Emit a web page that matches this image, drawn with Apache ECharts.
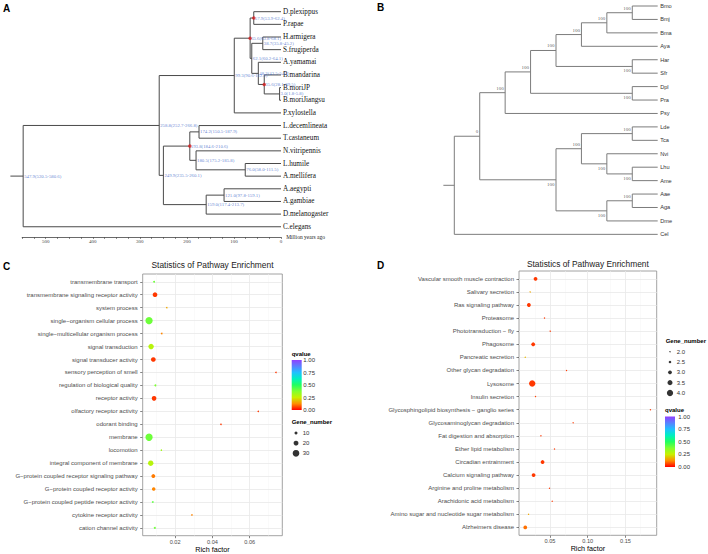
<!DOCTYPE html>
<html><head><meta charset="utf-8">
<script src="https://cdn.jsdelivr.net/npm/echarts@6/dist/echarts.min.js"></script>
<style>html,body{margin:0;padding:0;background:#fff}#c{width:708px;height:554px}</style>
</head><body><div id="c"></div>
<script>
// ================= DATA =================
// ---- Panel A : time tree ----
const leavesA = ['D.plexippus','P.rapae','H.armigera','S.frugiperda','A.yamamai','B.mandarina','B.moriJP','B.moriJiangsu','P.xylostella','L.decemlineata','T.castaneum','N.vitripennis','L.humile','A.mellifera','A.aegypti','A.gambiae','D.melanogaster','C.elegans'];
const nodeIdsA = ['n1','n2','n3','n4','n5','n6','n7','n8','n9','n10','n11','n12','n13','n14','n15','n16','n17'];
const nodeAgesA = [57.9, 38.7, 3.0, 35.6, 48.2, 62.1, 65.6, 99.3, 174.2, 76.0, 180.5, 193.8, 121.0, 159.0, 249.9, 258.8, 547.9];
const nodeKidsA = [['D.plexippus','P.rapae'],['H.armigera','S.frugiperda'],['B.moriJP','B.moriJiangsu'],['B.mandarina','n3'],['A.yamamai','n4'],['n2','n5'],['n1','n6'],['n7','P.xylostella'],['L.decemlineata','T.castaneum'],['L.humile','A.mellifera'],['N.vitripennis','n10'],['n9','n11'],['A.aegypti','A.gambiae'],['n13','D.melanogaster'],['n12','n14'],['n8','n15'],['n16','C.elegans']];
const nodeLabelsA = ['57.9(53.9-62.4)','38.7(35.8-45.2)','3.0(1.8-5.8)','35.6(28.1-39.5)','48.2(43.5-54.5)','62.1(60.2-64.1)','65.6(63.8-68.1)','99.3(90.6-112.2)','174.2(150.5-187.9)','76.0(58.0-111.5)','180.5(175.2-185.8)','193.8(184.6-210.6)','121.0(97.8-159.1)','159.0(117.4-213.7)','249.9(235.5-260.1)','258.8(252.7-266.8)','547.9(520.5-580.6)'];
const calibratedA = ['n1','n4','n7','n12'];
const rootStubAgeA = 575;
const axisMaxA = 550;
const axisStepA = 25;

// ---- Panel B : cladogram ----
const leavesB = ['Bmo','Bmj','Bma','Aya','Har','Sfr','Dpl','Pra','Psy','Lde','Tca','Nvi','Lhu','Ame','Aae','Aga','Dme','Cel'];
const nodeIdsB = ['b1','b2','b3','b4','b5','b6','b7','b8','b9','b10','b11','b12','b13','b14','b15','b16','b17'];
const nodeColsB = [7,6,5,7,4,7,3,2,7,7,6,5,7,6,4,1,0];
const nodeKidsB = [['Bmo','Bmj'],['b1','Bma'],['b2','Aya'],['Har','Sfr'],['b3','b4'],['Dpl','Pra'],['b5','b6'],['b7','Psy'],['Lde','Tca'],['Lhu','Ame'],['Nvi','b10'],['b9','b11'],['Aae','Aga'],['b13','Dme'],['b12','b14'],['b8','b15'],['b16','Cel']];
const nodeSupportB = ['100','100','100','100','100','100','100','100','100','100','100','100','100','100','100','0',''];
const tipColB = 8;
const rootStubColB = -0.43;

// ---- Panel C : GO enrichment ----
const catsC = ['transmembrane transport','transmembrane signaling receptor activity','system process','single\u2212organism cellular process','single\u2212multicellular organism process','signal transduction','signal transducer activity','sensory perception of smell','regulation of biological quality','receptor activity','olfactory receptor activity','odorant binding','membrane','locomotion','integral component of membrane','G\u2212protein coupled receptor signaling pathway','G\u2212protein coupled receptor activity','G\u2212protein coupled peptide receptor activity','cytokine receptor activity','cation channel activity'];
const richC = [0.0087,0.0092,0.0155,0.0060,0.0128,0.0071,0.0083,0.0741,0.0094,0.0087,0.0646,0.0446,0.0060,0.0126,0.0069,0.0083,0.0085,0.0080,0.0290,0.0091];
const qvalC = [0.40,0.05,0.16,0.40,0.12,0.28,0.05,0.05,0.38,0.05,0.05,0.05,0.40,0.32,0.28,0.11,0.12,0.42,0.12,0.40];
const geneC = [4,19,2,33,3,23,19,2,4,19,2,2,33,2,23,15,13,3,2,4];
const majorTicksC = [0.02,0.04,0.06];
const minorTicksC = [0.01,0.03,0.05,0.07];
const sizeLegendC = [10,20,30];

// ---- Panel D : KEGG enrichment ----
const catsD = ['Vascular smooth muscle contraction','Salivary secretion','Ras signaling pathway','Proteasome','Phototransduction \u2212 fly','Phagosome','Pancreatic secretion','Other glycan degradation','Lysosome','Insulin secretion','Glycosphingolipid biosynthesis \u2212 ganglio series','Glycosaminoglycan degradation','Fat digestion and absorption','Ether lipid metabolism','Circadian entrainment','Calcium signaling pathway','Arginine and proline metabolism','Arachidonic acid metabolism','Amino sugar and nucleotide sugar metabolism','Alzheimers disease'];
const richD = [0.0310,0.0239,0.0222,0.0429,0.0504,0.0279,0.0174,0.0720,0.0266,0.0310,0.1830,0.0807,0.0381,0.0561,0.0403,0.0284,0.0495,0.0530,0.0218,0.0174];
const qvalD = [0.05,0.16,0.05,0.05,0.05,0.05,0.18,0.05,0.05,0.06,0.05,0.05,0.05,0.05,0.05,0.05,0.05,0.05,0.16,0.10];
const geneD = [3,2,3,2,2,3,2,2,4,2,2,2,2,2,3,3,2,2,2,3];
const majorTicksD = [0.05,0.10,0.15];
const minorTicksD = [0.025,0.075,0.125,0.175];
const sizeLegendD = [2.0,2.5,3.0,3.5,4.0];

const qLegendTicks = [0,0.25,0.5,0.75,1];
const qColors = ['#FF0000','#FF8C00','#C8F000','#80FF30','#20FF60','#00F0C0','#20C0FF','#5A80FF','#9040FF'];

// ================= HELPERS =================
const SANS = 'Liberation Sans', SERIF = 'Liberation Serif';
const sizeC = n => 1.15 + 0.185 * n;
const sizeD = n => 1.3 + 2.5 * (n - 2);

function layoutTree(leaves, ids, xs, kids, tipX) {
  const pos = {};
  leaves.forEach((n, i) => { pos[n] = { x: tipX, y: i }; });
  ids.forEach((id, k) => {
    const a = pos[kids[k][0]], b = pos[kids[k][1]];
    pos[id] = { x: xs[k], y: (a.y + b.y) / 2 };
  });
  return pos;
}
function treeSegments(ids, kids, pos, stubX) {
  const segs = ids.map((id, k) => {
    const n = pos[id], a = pos[kids[k][0]], b = pos[kids[k][1]];
    return [a.x, a.y, n.x, a.y, n.x, b.y, b.x, b.y];
  });
  const r = pos[ids[ids.length - 1]];
  segs.push([stubX, r.y, r.x, r.y, r.x, r.y, r.x, r.y]);
  return segs;
}
function treeSeries(gi, segs, color) {
  return {
    type: 'custom', xAxisIndex: gi, yAxisIndex: gi, clip: false, silent: true, z: 2,
    data: segs,
    renderItem: (params, api) => {
      const pts = [];
      for (let k = 0; k < 4; k++) pts.push(api.coord([api.value(2 * k), api.value(2 * k + 1)]));
      return { type: 'polyline', shape: { points: pts }, style: { stroke: color, lineWidth: 1, fill: 'none' } };
    }
  };
}

const grids = [], xAxes = [], yAxes = [], series = [], graphics = [];
function addGrid(g, xa, ya) {
  grids.push(Object.assign({ outerBoundsMode: 'none', containLabel: false }, g));
  const gi = grids.length - 1;
  const noZero = a => { a.axisLine = Object.assign({ onZero: false }, a.axisLine || {}); return a; };
  xAxes.push(noZero(Object.assign({ gridIndex: gi }, xa)));
  yAxes.push(noZero(Object.assign({ gridIndex: gi }, ya)));
  return gi;
}
function text(x, y, s, font, opts) {
  graphics.push({ type: 'text', x: x, y: y, silent: true,
    style: Object.assign({ text: s, font: font, fill: '#000', align: 'left', verticalAlign: 'middle' }, opts || {}) });
}
const hidden = () => ({ show: false });

// ================= PANEL A =================
const pxPerMY = 0.4706, zeroXA = 281;
const gA = addGrid(
  { left: zeroXA - axisMaxA * pxPerMY, top: 0, width: axisMaxA * pxPerMY, height: 237 },
  { type: 'value', min: 0, max: axisMaxA, interval: axisStepA, inverse: true, position: 'bottom',
    axisLine: { show: true, onZero: false, lineStyle: { color: '#444', width: 0.8 } },
    axisTick: { show: true, length: 2, lineStyle: { color: '#444', width: 0.6 } },
    axisLabel: { formatter: v => (v % 100 === 0 ? String(v) : ''), fontSize: 5, fontFamily: SERIF, color: '#444', margin: 2 },
    splitLine: hidden(),
    name: 'Million years ago', nameLocation: 'start', nameGap: 2,
    nameTextStyle: { fontSize: 5.5, fontFamily: SERIF, color: '#222', verticalAlign: 'middle' } },
  { type: 'value', min: -0.925, max: 17.81, inverse: true, position: 'right',
    axisLine: hidden(), axisTick: hidden(), splitLine: hidden(),
    axisLabel: { customValues: leavesA.map((_, i) => i), formatter: v => leavesA[Math.round(v)],
      fontSize: 7.2, fontFamily: SERIF, color: '#111', margin: 2 } }
);
const posA = layoutTree(leavesA, nodeIdsA, nodeAgesA, nodeKidsA, 0);
series.push(treeSeries(gA, treeSegments(nodeIdsA, nodeKidsA, posA, rootStubAgeA), '#4a4a4a'));
series.push({ type: 'scatter', xAxisIndex: gA, yAxisIndex: gA, silent: true, z: 3, symbolSize: 3.5,
  itemStyle: { color: '#d81e1e' }, data: calibratedA.map(id => [posA[id].x, posA[id].y]) });
series.push({ type: 'scatter', xAxisIndex: gA, yAxisIndex: gA, silent: true, z: 4, symbolSize: 0,
  data: nodeIdsA.map((id, k) => [posA[id].x, posA[id].y, nodeLabelsA[k]]),
  label: { show: true, position: 'right', distance: 1, formatter: p => p.data[2],
    fontSize: 4.8, fontFamily: SERIF, color: '#3a66c8' } });

// ================= PANEL B =================
const gB = addGrid(
  { left: 454.3, top: 0, width: 203.4, height: 240 },
  { type: 'value', min: 0, max: tipColB, show: false },
  { type: 'value', min: -0.447, max: 17.42, inverse: true, position: 'right',
    axisLine: hidden(), axisTick: hidden(), splitLine: hidden(),
    axisLabel: { customValues: leavesB.map((_, i) => i), formatter: v => leavesB[Math.round(v)],
      fontSize: 5.6, fontFamily: SANS, color: '#333', margin: 2.5 } }
);
const posB = layoutTree(leavesB, nodeIdsB, nodeColsB, nodeKidsB, tipColB);
series.push(treeSeries(gB, treeSegments(nodeIdsB, nodeKidsB, posB, rootStubColB), '#7c7c7c'));
const parentSideB = {};
nodeKidsB.forEach(k => { parentSideB[k[0]] = -1; parentSideB[k[1]] = 1; });
series.push({ type: 'scatter', xAxisIndex: gB, yAxisIndex: gB, silent: true, z: 4, symbolSize: 0,
  data: nodeIdsB.map((id, k) => ({ value: [posB[id].x, posB[id].y, nodeSupportB[k]],
    label: { offset: [0, 4.5 * (parentSideB[id] || -1)] } })),
  label: { show: true, position: 'left', distance: 1.5, formatter: p => p.data.value[2],
    fontSize: 5, fontFamily: SERIF, color: '#333' } });

// ================= PANELS C / D =================
function enrichPanel(cfg) {
  const lo = Math.min(...cfg.rich), hi = Math.max(...cfg.rich), pad = 0.05 * (hi - lo);
  const n = cfg.cats.length;
  const rows = cfg.cats.map((_, i) => i + 1);
  const gi = addGrid(
    { left: cfg.left, top: cfg.top, width: cfg.width, height: cfg.height, show: true,
      borderColor: '#8c8c8c', borderWidth: 0.8, backgroundColor: '#fff' },
    { type: 'value', min: lo - pad, max: hi + pad, position: 'bottom',
      axisLine: hidden(), splitLine: hidden(),
      axisTick: { show: true, customValues: cfg.major, length: 2.5, lineStyle: { color: '#333', width: 0.6 } },
      axisLabel: { customValues: cfg.major, formatter: v => v.toFixed(2), fontSize: 5.6, fontFamily: SANS, color: '#4d4d4d', margin: 3 },
      name: 'Rich factor', nameLocation: 'middle', nameGap: 9.5,
      nameTextStyle: { fontSize: 7.2, fontFamily: SANS, color: '#000' } },
    { type: 'value', min: 0.4, max: n + 0.6, inverse: true, position: 'left',
      axisLine: hidden(), splitLine: hidden(),
      axisTick: { show: true, customValues: rows, length: 2.5, lineStyle: { color: '#333', width: 0.6 } },
      axisLabel: { customValues: rows, formatter: v => cfg.cats[Math.round(v) - 1], fontSize: 6, fontFamily: SANS, color: '#4d4d4d', margin: 5 } }
  );
  const gl = [];
  cfg.minor.forEach(v => gl.push({ xAxis: v, lineStyle: { color: '#f4f4f4', width: 0.5, type: 'solid' } }));
  cfg.major.forEach(v => gl.push({ xAxis: v, lineStyle: { color: '#e8e8e8', width: 0.8, type: 'solid' } }));
  rows.forEach(r => gl.push({ yAxis: r, lineStyle: { color: '#e8e8e8', width: 0.8, type: 'solid' } }));
  series.push({ type: 'scatter', xAxisIndex: gi, yAxisIndex: gi, data: [], silent: true, z: 1,
    markLine: { silent: true, symbol: 'none', animation: false, label: { show: false }, emphasis: { disabled: true }, data: gl } });
  const si = series.length;
  series.push({ type: 'scatter', xAxisIndex: gi, yAxisIndex: gi, silent: true, z: 5,
    data: cfg.rich.map((x, i) => [x, i + 1, cfg.q[i], cfg.genes[i]]),
    symbolSize: v => cfg.size(v[3]), itemStyle: { opacity: 1 } });
  text(cfg.left + cfg.width / 2, cfg.titleY, 'Statistics of Pathway Enrichment', '8.4px ' + SANS, { align: 'center', fill: '#1a1a1a' });
  return si;
}
const siC = enrichPanel({ left: 142.7, top: 274, width: 139.6, height: 261.7, cats: catsC, rich: richC, q: qvalC, genes: geneC,
  major: majorTicksC, minor: minorTicksC, size: sizeC, titleY: 264.5 });
const siD = enrichPanel({ left: 519, top: 271, width: 137.7, height: 264.3, cats: catsD, rich: richD, q: qvalD, genes: geneD,
  major: majorTicksD, minor: minorTicksD, size: sizeD, titleY: 263.5 });

// ---- legends ----
function colorBar(left, top, h, margin, titleY) {
  const gi = addGrid({ left: left, top: top, width: 10, height: h },
    { type: 'category', data: ['q'], show: false },
    { type: 'value', min: 0, max: 1, interval: 0.25, position: 'right', axisLine: hidden(), axisTick: hidden(), splitLine: hidden(),
      axisLabel: { customValues: qLegendTicks, formatter: v => v.toFixed(2), fontSize: 6, fontFamily: SANS, color: '#333', margin: margin } });
  series.push({ type: 'bar', xAxisIndex: gi, yAxisIndex: gi, silent: true, barWidth: '100%', data: [1],
    itemStyle: { color: new echarts.graphic.LinearGradient(0, 1, 0, 0,
      qColors.map((c, i) => ({ offset: i / (qColors.length - 1), color: c }))) } });
  text(left, titleY, 'qvalue', 'bold 6px ' + SANS);
}
function sizeLegend(vals, fmt, sizeFn, left, top, rowH, margin, titleY) {
  const gi = addGrid({ left: left, top: top, width: 6, height: rowH * vals.length },
    { type: 'value', min: 0, max: 1, show: false },
    { type: 'category', data: vals.map(fmt), inverse: true, position: 'right', axisLine: hidden(), axisTick: hidden(), splitLine: hidden(),
      axisLabel: { fontSize: 6, fontFamily: SANS, color: '#333', margin: margin } });
  series.push({ type: 'scatter', xAxisIndex: gi, yAxisIndex: gi, silent: true, itemStyle: { color: '#000' },
    data: vals.map((v, i) => [0.5, i, v]), symbolSize: d => sizeFn(d[2]) });
  text(left - 1.3, titleY, 'Gene_number', 'bold 6px ' + SANS);
}
colorBar(291.7, 360, 50, 1.6, 353.5);
sizeLegend(sizeLegendC, v => String(v), sizeC, 293, 427.9, 10.15, 3.7, 422.2);
sizeLegend(sizeLegendD, v => v.toFixed(1), sizeD, 667, 346.5, 10.33, 3.7, 341.2);
colorBar(665, 416.5, 50.5, 3.3, 410);

// panel letters
text(3, 8.5, 'A', 'bold 10px ' + SANS);
text(377, 7.5, 'B', 'bold 10px ' + SANS);
text(3, 266.5, 'C', 'bold 10px ' + SANS);
text(377, 265.5, 'D', 'bold 10px ' + SANS);

const chart = echarts.init(document.getElementById('c'), null, { renderer: 'svg', width: 708, height: 554 });
chart.setOption({
  animation: false,
  backgroundColor: '#fff',
  grid: grids, xAxis: xAxes, yAxis: yAxes, series: series,
  visualMap: [
    { type: 'continuous', show: false, seriesIndex: siC, dimension: 2, min: 0, max: 1, inRange: { color: qColors } },
    { type: 'continuous', show: false, seriesIndex: siD, dimension: 2, min: 0, max: 1, inRange: { color: qColors } }
  ],
  graphic: graphics
});
</script></body></html>
